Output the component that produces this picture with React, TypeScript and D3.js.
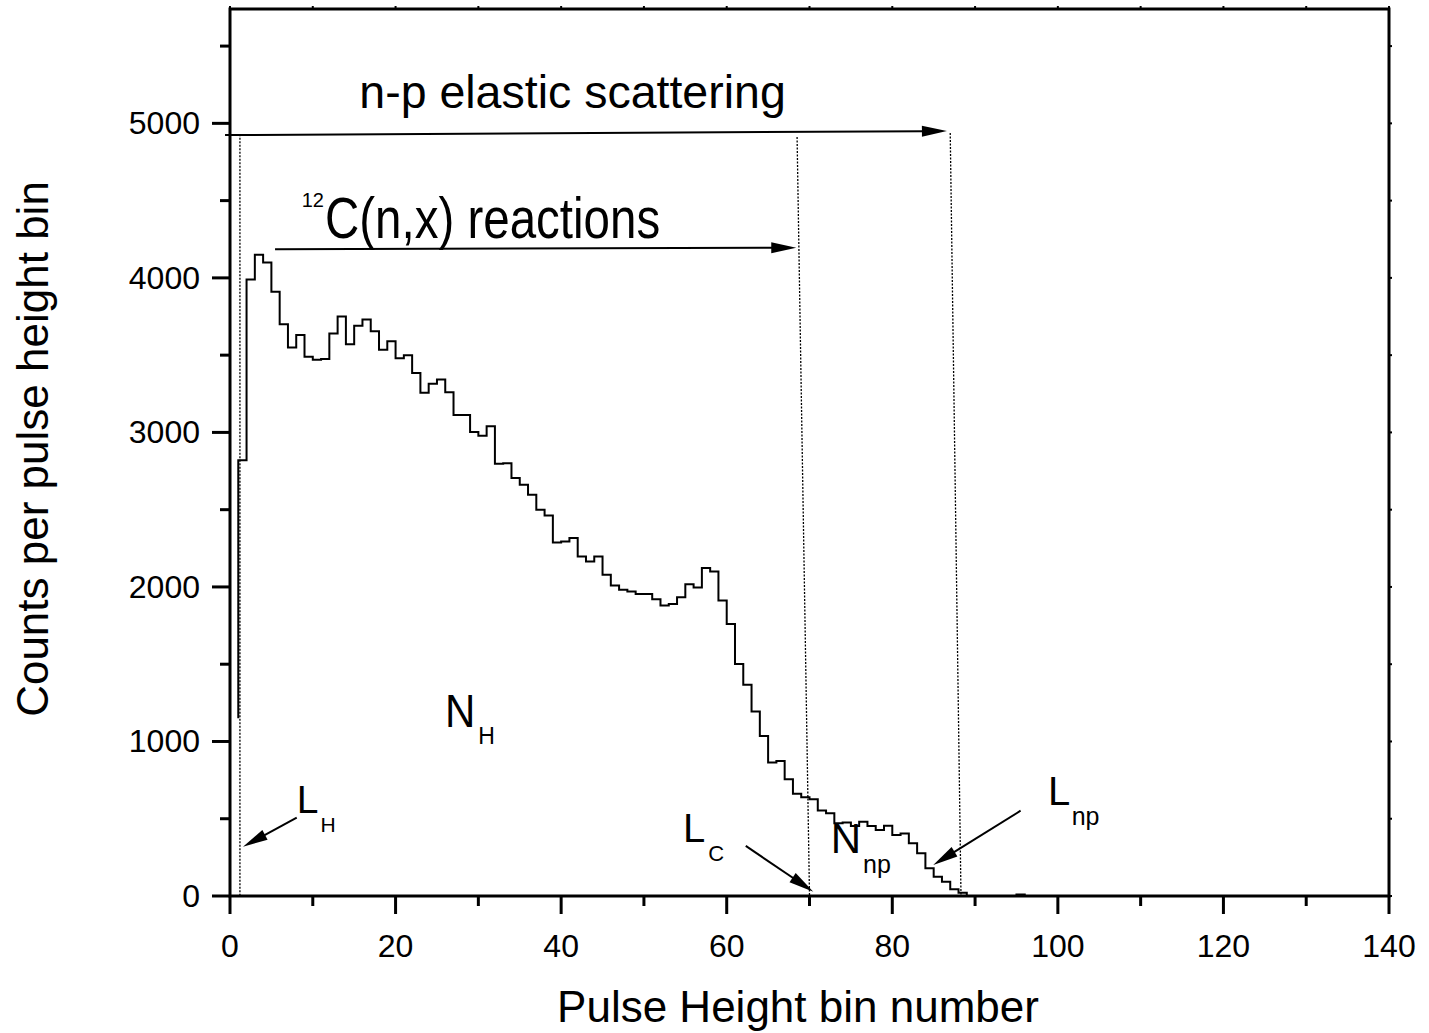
import React from "react";
import * as d3 from "d3";

// ---- data ----
const firstBin = 1;
const startCount = 1150; // level where the drawn histogram line begins at the first bin edge
const counts = [
  2820, 3990, 4150, 4100, 3910, 3700, 3550, 3630, 3490, 3470,
  3475, 3640, 3750, 3570, 3690, 3730, 3655, 3535, 3590, 3480,
  3500, 3385, 3256, 3315, 3342, 3260, 3112, 3112, 3003, 2979,
  3040, 2798, 2800, 2705, 2662, 2597, 2500, 2463, 2288, 2294,
  2316, 2197, 2165, 2197, 2079, 2010, 1982, 1971, 1954, 1954,
  1921, 1880, 1889, 1934, 2018, 1997, 2122, 2100, 1913, 1760,
  1501, 1367, 1194, 1036, 864, 874, 755, 661, 639, 626,
  553, 535, 470, 475, 453, 481, 453, 427, 455, 395,
  405, 341, 276, 179, 125, 93, 43, 21, 0, 0,
  0, 0, 0, 0, 10, 0, 0, 0, 0,
];

const xTicksMajor = [0, 20, 40, 60, 80, 100, 120, 140];
const xTicksMinor = [10, 30, 50, 70, 90, 110, 130];
const yTicksMajor = [0, 1000, 2000, 3000, 4000, 5000];
const yTicksMinor = [500, 1500, 2500, 3500, 4500, 5500];

// dotted threshold lines
const thresholdLines = [
  { x1: 1.2, y1: 4930, x2: 1.2, y2: 0 },
  { x1: 68.5, y1: 4911, x2: 70.0, y2: 0 },
  { x1: 87.0, y1: 4937, x2: 88.3, y2: 0 },
];

// arrows (from -> to, head at "to")
const arrows = [
  { x1: -0.6, y1: 4924, x2: 86.6, y2: 4950 },
  { x1: 5.44, y1: 4185, x2: 68.4, y2: 4195 },
  { x1: 8.06, y1: 507, x2: 1.57, y2: 319 },
  { x1: 62.3, y1: 324, x2: 70.46, y2: 28 },
  { x1: 95.5, y1: 552, x2: 84.95, y2: 201 },
];

// labels with subscripts
const subLabels = [
  { x: 25.97, y: 1095, main: "N", sub: "H", size: 42, subSize: 23, dx: 3, dy: 17, sy: 1.08 },
  { x: 8.06, y: 537, main: "L", sub: "H", size: 39, subSize: 21, dx: 2, dy: 19, sy: 1.0 },
  { x: 54.72, y: 349, main: "L", sub: "C", size: 40, subSize: 22, dx: 3, dy: 19, sy: 1.0 },
  { x: 72.56, y: 278, main: "N", sub: "np", size: 42, subSize: 25, dx: 2, dy: 20, sy: 1.0 },
  { x: 98.8, y: 589, main: "L", sub: "np", size: 40, subSize: 25, dx: 1.5, dy: 20, sy: 1.0 },
];

const W = 1429;
const H = 1033;
const left = 230, right = 1389, top = 9, bottom = 896;
const FONT = "'Liberation Sans', Arial, sans-serif";

export default function App() {
  const x = d3.scaleLinear().domain([0, 140]).range([left, right]);
  const y = d3.scaleLinear().domain([0, 5740]).range([bottom, top]);

  const pts: [number, number][] = [[firstBin, startCount]];
  counts.forEach((c, i) => {
    const b = firstBin + i;
    pts.push([b, c]);
    pts.push([b + 1, c]);
  });
  const line = d3.line<[number, number]>().x((d) => x(d[0])).y((d) => y(d[1]));
  const histPath = line(pts) || "";

  const arrowHead = (a: { x1: number; y1: number; x2: number; y2: number }) => {
    const X1 = x(a.x1), Y1 = y(a.y1), X2 = x(a.x2), Y2 = y(a.y2);
    const ang = Math.atan2(Y2 - Y1, X2 - X1);
    const L = 25, Wd = 5.5;
    const bx = X2 - L * Math.cos(ang), by = Y2 - L * Math.sin(ang);
    const px = -Math.sin(ang) * Wd, py = Math.cos(ang) * Wd;
    return {
      line: { X1, Y1, X2: bx + 2 * Math.cos(ang), Y2: by + 2 * Math.sin(ang) },
      poly: `${X2},${Y2} ${bx + px},${by + py} ${bx - px},${by - py}`,
    };
  };

  return (
    <svg
      width={W}
      height={H}
      style={{ position: "absolute", left: 0, top: 0, background: "#fff" }}
      fontFamily={FONT}
    >
      <rect x={0} y={0} width={W} height={H} fill="#fff" />

      {thresholdLines.map((d, i) => (
        <line
          key={"t" + i}
          x1={x(d.x1)} y1={y(d.y1)} x2={x(d.x2)} y2={y(d.y2)}
          stroke="#000" strokeWidth={1.3} strokeDasharray="2 1.5"
        />
      ))}

      <path d={histPath} fill="none" stroke="#000" strokeWidth={2} strokeLinejoin="miter" />

      {arrows.map((a, i) => {
        const h = arrowHead(a);
        return (
          <g key={"a" + i}>
            <line x1={h.line.X1} y1={h.line.Y1} x2={h.line.X2} y2={h.line.Y2} stroke="#000" strokeWidth={2} />
            <polygon points={h.poly} fill="#000" />
          </g>
        );
      })}

      <rect x={left} y={top} width={right - left} height={bottom - top} fill="none" stroke="#000" strokeWidth={3} />

      {xTicksMajor.map((t) => (
        <g key={"xm" + t}>
          <line x1={x(t)} x2={x(t)} y1={bottom} y2={bottom + 18} stroke="#000" strokeWidth={3} />
          <line x1={x(t)} x2={x(t)} y1={top} y2={top - 3} stroke="#000" strokeWidth={2} />
          <text x={x(t)} y={957} fontSize={32} textAnchor="middle">{t}</text>
        </g>
      ))}
      {xTicksMinor.map((t) => (
        <g key={"xn" + t}>
          <line x1={x(t)} x2={x(t)} y1={bottom} y2={bottom + 10} stroke="#000" strokeWidth={3} />
          <line x1={x(t)} x2={x(t)} y1={top} y2={top - 3} stroke="#000" strokeWidth={2} />
        </g>
      ))}

      {yTicksMajor.map((t) => (
        <g key={"ym" + t}>
          <line x1={left} x2={left - 18} y1={y(t)} y2={y(t)} stroke="#000" strokeWidth={3} />
          <line x1={right} x2={right + 3} y1={y(t)} y2={y(t)} stroke="#000" strokeWidth={2} />
          <text x={200} y={y(t) + 11} fontSize={32} textAnchor="end">{t}</text>
        </g>
      ))}
      {yTicksMinor.map((t) => (
        <g key={"yn" + t}>
          <line x1={left} x2={left - 10} y1={y(t)} y2={y(t)} stroke="#000" strokeWidth={3} />
          <line x1={right} x2={right + 3} y1={y(t)} y2={y(t)} stroke="#000" strokeWidth={2} />
        </g>
      ))}

      <text x={798} y={1022} fontSize={44} textAnchor="middle">Pulse Height bin number</text>
      <text transform={`translate(48,449) rotate(-90)`} fontSize={44} textAnchor="middle">
        Counts per pulse height bin
      </text>

      <text x={x(15.62)} y={y(5097)} fontSize={46.5}>n-p elastic scattering</text>
      <text x={x(8.66)} y={y(4460)} fontSize={20}>12</text>
      <text transform={`translate(${x(8.66) + 23.3},${y(4460) + 31.6}) scale(1,1.2)`} fontSize={47.5}>
        C(n,x) reactions
      </text>

      {subLabels.map((l, i) => (
        <text
          key={"l" + i}
          transform={`translate(${x(l.x)},${y(l.y)}) scale(1,${l.sy})`}
          fontSize={l.size}
        >
          {l.main}
          <tspan fontSize={l.subSize} dx={l.dx} dy={l.dy / l.sy}>{l.sub}</tspan>
        </text>
      ))}
    </svg>
  );
}
